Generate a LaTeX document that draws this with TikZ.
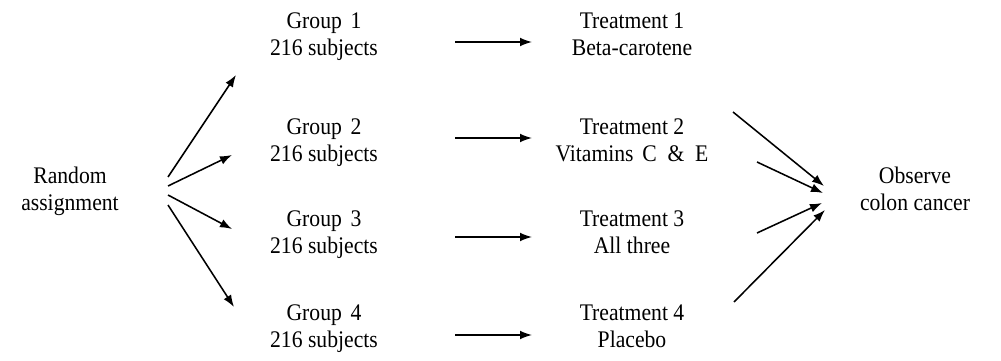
\documentclass[tikz,border=0pt]{standalone}
\usepackage{fontspec}
\usepackage{graphicx}
\setmainfont{Liberation Serif}
\usetikzlibrary{arrows.meta}
\newcommand{\twol}[2]{\scalebox{1}[1.1]{\fontsize{15.4}{17.45}\selectfont\setlength{\tabcolsep}{0pt}\begin{tabular}{c}#1\\#2\end{tabular}}}
\begin{document}
\begin{tikzpicture}[x=0.025cm,y=-0.025cm,
  lbl/.style={inner sep=0pt},
  arr/.style={line width=1.1pt,-{Latex[length=3mm,width=2.2mm]}}]
\useasboundingbox (0,0) rectangle (1001,361);
\node[lbl] (ra) at (70,192) {\twol{Random}{assignment}};
\node[lbl] (g1) at (324,37) {\twol{Group\hspace{0.4em}1}{216 subjects}};
\node[lbl] (g2) at (324,143) {\twol{Group\hspace{0.4em}2}{216 subjects}};
\node[lbl] (g3) at (324,235) {\twol{Group\hspace{0.4em}3}{216 subjects}};
\node[lbl] (g4) at (324,329) {\twol{Group\hspace{0.4em}4}{216 subjects}};
\node[lbl] (t1) at (632,37) {\twol{Treatment 1}{Beta-carotene}};
\node[lbl] (t2) at (632,143) {\twol{Treatment 2}{Vitamins\hspace{0.4em}C\hspace{0.5em}\&\hspace{0.5em}E}};
\node[lbl] (t3) at (632,235) {\twol{Treatment 3}{All three}};
\node[lbl] (t4) at (632,329) {\twol{Treatment 4}{Placebo}};
\node[lbl] (oc) at (915,192) {\twol{Observe}{colon cancer}};
% fan-out points
\coordinate (ra1) at (168,177); \coordinate (g1a) at (236,75);
\coordinate (ra2) at (168,186); \coordinate (g2a) at (232,155);
\coordinate (ra3) at (168,195); \coordinate (g3a) at (232,229);
\coordinate (ra4) at (168,205); \coordinate (g4a) at (234,307);
\draw[arr] (ra1) -- (g1a);
\draw[arr] (ra2) -- (g2a);
\draw[arr] (ra3) -- (g3a);
\draw[arr] (ra4) -- (g4a);
% group to treatment
\coordinate (g1b) at (455,42); \coordinate (t1a) at (532,42);
\coordinate (g2b) at (455,138); \coordinate (t2a) at (532,138);
\coordinate (g3b) at (455,237); \coordinate (t3a) at (532,237);
\coordinate (g4b) at (455,335); \coordinate (t4a) at (532,335);
\draw[arr] (g1b) -- (t1a);
\draw[arr] (g2b) -- (t2a);
\draw[arr] (g3b) -- (t3a);
\draw[arr] (g4b) -- (t4a);
% fan-in
\coordinate (t1b) at (733,112); \coordinate (oc1) at (824,186);
\coordinate (t2b) at (757,162); \coordinate (oc2) at (823,193);
\coordinate (t3b) at (757,233); \coordinate (oc3) at (822,203);
\coordinate (t4b) at (734,302); \coordinate (oc4) at (825,210);
\draw[arr] (t1b) -- (oc1);
\draw[arr] (t2b) -- (oc2);
\draw[arr] (t3b) -- (oc3);
\draw[arr] (t4b) -- (oc4);
\end{tikzpicture}
\end{document}
